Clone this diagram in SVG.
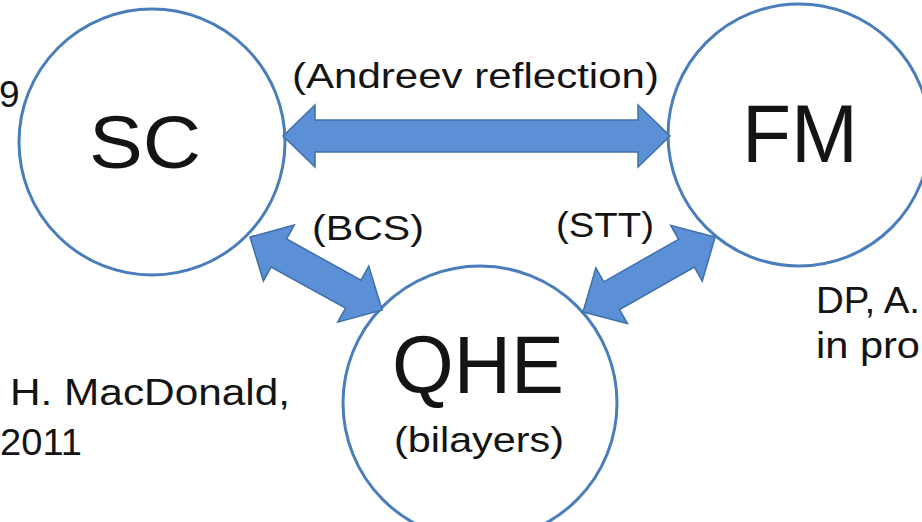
<svg xmlns="http://www.w3.org/2000/svg" width="922" height="522" viewBox="0 0 922 522">
<style>
  .node { fill: #ffffff; stroke: #4a7ebb; stroke-width: 3; }
  .arrow { fill: #5b90d6; stroke: #3f6fa8; stroke-width: 1.5; stroke-linejoin: miter; }
  text { font-family: "Liberation Sans", Arial, sans-serif; fill: #141414; }
  .big { text-anchor: middle; }
  .lbl { text-anchor: middle; font-size: 35px; }
  .note { font-size: 37px; }
</style>
<rect width="922" height="522" fill="#ffffff"/>

<g id="node-sc">
  <circle class="node" cx="152" cy="142" r="133"/>
  <text class="big" x="145" y="168" font-size="74" textLength="112" lengthAdjust="spacingAndGlyphs">SC</text>
</g>
<g id="node-fm">
  <circle class="node" cx="799" cy="135" r="131"/>
  <text class="big" x="800" y="162" font-size="82" textLength="116" lengthAdjust="spacingAndGlyphs">FM</text>
</g>
<g id="node-qhe">
  <circle class="node" cx="480" cy="403" r="137"/>
  <text class="big" x="478" y="393" font-size="81" textLength="172" lengthAdjust="spacingAndGlyphs">QHE</text>
  <text class="lbl" x="479" y="452" textLength="170" lengthAdjust="spacingAndGlyphs">(bilayers)</text>
</g>

<g id="connectors">
  <path class="arrow" transform="translate(283,136)" d="M0,0 L32,-31 L32,-16 L355,-16 L355,-31 L387,0 L355,31 L355,16 L32,16 L32,31 Z"/>
  <path class="arrow" transform="translate(250,237) rotate(28.95)" d="M0,0 L33,-32 L33,-16 L118,-16 L118,-32 L151,0 L118,32 L118,16 L33,16 L33,32 Z"/>
  <path class="arrow" transform="translate(583,312) rotate(-29.6)" d="M0,0 L33,-32 L33,-16 L119,-16 L119,-32 L152,0 L119,32 L119,16 L33,16 L33,32 Z"/>
</g>

<g id="labels">
  <text class="lbl" x="475.5" y="88" font-size="36" textLength="367" lengthAdjust="spacingAndGlyphs">(Andreev reflection)</text>
  <text class="lbl" x="368" y="240" textLength="112" lengthAdjust="spacingAndGlyphs">(BCS)</text>
  <text class="lbl" x="605" y="237" font-size="34" textLength="98" lengthAdjust="spacingAndGlyphs">(STT)</text>
</g>

<g id="notes">
  <text class="note" x="-1" y="107">9</text>
  <text class="note" x="10" y="405" textLength="280" lengthAdjust="spacingAndGlyphs">H. MacDonald,</text>
  <text class="note" x="0" y="455" textLength="82" lengthAdjust="spacingAndGlyphs">2011</text>
  <text class="note" x="816" y="313" font-size="36" textLength="104" lengthAdjust="spacingAndGlyphs">DP, A.</text>
  <text class="note" x="816" y="358" font-size="36" textLength="104" lengthAdjust="spacingAndGlyphs">in pro</text>
</g>
</svg>
